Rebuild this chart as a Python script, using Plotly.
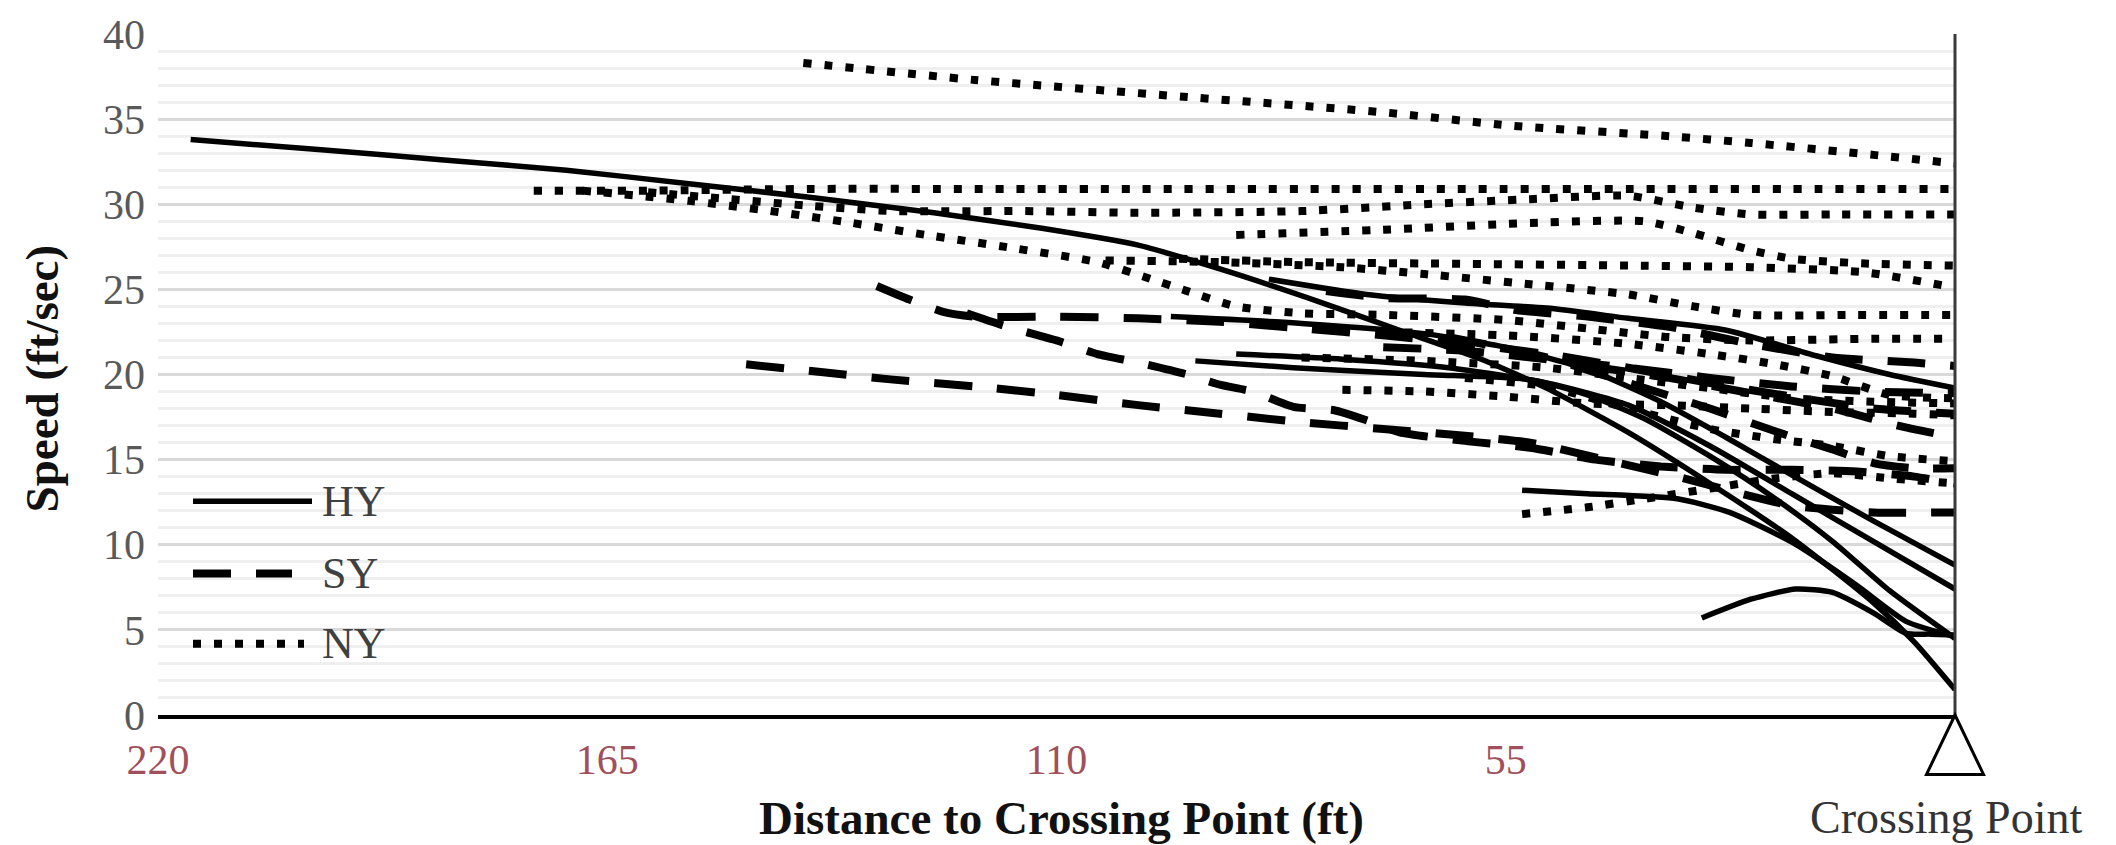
import plotly.graph_objects as go

# ---- axis ticks ----
dist_ticks = [220, 165, 110, 55]
speed_ticks = [0, 5, 10, 15, 20, 25, 30, 35, 40]

# ---- HY trajectories (distance ft, speed ft/s) ----
hy_dist = [
    [216, 200, 185, 170, 155, 140, 125, 112, 100, 90, 78, 68, 58, 50, 40, 30, 20, 10, 5, 0],
    [93, 81, 65, 52, 45, 38, 30, 22, 15, 8, 0],
    [96, 80, 65, 55, 45, 36, 28, 20, 10, 0],
    [88, 75, 62, 50, 40, 30, 20, 10, 0],
    [84, 72, 60, 50, 40, 28, 17, 8, 0],
    [31, 25, 19.5, 15, 10, 6, 3, 0],
    [53, 45, 34, 27.6, 19.4, 12, 6, 0],
]
hy_speed = [
    [33.8, 33.2, 32.6, 32.0, 31.2, 30.4, 29.5, 28.6, 27.6, 26.2, 24.3, 22.6, 20.9, 19.2, 16.6, 13.6, 10.4, 6.6, 4.3, 1.5],
    [20.8, 20.4, 20.0, 19.7, 18.8, 17.4, 15.2, 12.7, 10.2, 7.3, 4.5],
    [23.4, 23.0, 22.4, 21.6, 20.3, 18.4, 16.3, 14.1, 11.4, 8.8],
    [21.2, 20.9, 20.4, 19.5, 18.2, 15.8, 13.0, 10.2, 7.4],
    [25.6, 24.7, 24.2, 23.9, 23.3, 22.6, 21.1, 20.0, 19.2],
    [5.7, 6.8, 7.4, 7.2, 6.0, 4.8, 4.75, 4.7],
    [13.2, 13.0, 12.7, 11.9, 10.0, 7.6, 5.5, 4.6],
]

# ---- SY trajectories ----
sy_dist = [
    [148, 140, 130, 120, 110, 100, 90, 80, 70, 60, 52, 42, 34, 27, 20, 10, 0],
    [132, 128, 124, 120, 110, 100, 90, 80, 70, 60, 50, 40, 30, 20, 10, 0],
    [77, 70, 60, 54, 45, 35, 25, 15, 5, 0],
    [62, 50, 40, 30, 21, 15, 10, 5, 0],
    [45, 35, 25, 15, 7, 0],
    [121, 116, 110, 105, 100, 94, 90, 86, 81, 76, 72, 68, 60, 52, 44, 36, 28, 20, 12, 5, 0],
    [70, 60, 50, 40, 30, 20, 10, 0],
]
sy_speed = [
    [20.6, 20.2, 19.7, 19.3, 18.8, 18.2, 17.7, 17.2, 16.8, 16.4, 16.0, 14.9, 14.0, 13.1, 12.3, 11.9, 11.9],
    [25.2, 24.4, 23.7, 23.4, 23.4, 23.3, 23.1, 22.7, 22.3, 21.8, 21.2, 20.4, 19.5, 18.7, 18.0, 17.7],
    [24.9, 24.5, 24.4, 23.8, 23.4, 22.8, 21.8, 21.0, 20.7, 20.5],
    [22.2, 21.0, 19.5, 18.0, 16.5, 15.6, 14.8, 14.5, 14.5],
    [20.5, 19.8, 18.9, 18.0, 17.0, 16.3],
    [23.6, 22.8, 22.0, 21.2, 20.7, 20.0, 19.4, 19.0, 18.1, 17.9, 17.3, 16.6, 16.1, 15.7, 15.0, 14.6, 14.4, 14.4, 14.3, 14.0, 13.6],
    [21.6, 21.4, 20.9, 20.4, 19.8, 19.3, 19.0, 18.9],
]

# ---- NY trajectories ----
ny_dist = [
    [141, 120, 94, 70, 54, 35, 25, 10, 0],
    [174, 160, 140, 120, 100, 80, 60, 40, 20, 0],
    [160, 150, 140, 130, 114, 100, 80, 65, 52, 40, 32, 25, 15, 0],
    [168, 155, 145, 135, 126, 115, 105, 99, 94, 88, 80, 70, 55, 45, 35, 25, 10, 0],
    [88, 70, 52, 38, 32, 25, 20, 10, 0],
    [104, 90, 75, 65, 52, 40, 32, 25, 12, 0],
    [95, 80, 60, 40, 25, 11, 0],
    [75, 65, 55, 45, 35, 25, 15, 5, 0],
    [53, 45, 38, 30, 22, 15, 8, 0],
    [70, 55, 40, 30, 22, 15, 8, 0],
    [60, 50, 40, 30, 22, 15, 8, 0],
    [80, 65, 50, 40, 30, 20, 10, 0],
]
ny_speed = [
    [38.3, 37.3, 36.3, 35.4, 34.6, 34.0, 33.6, 32.9, 32.4],
    [30.8, 30.8, 30.9, 30.9, 30.9, 30.9, 30.9, 30.9, 30.9, 30.9],
    [30.7, 30.3, 29.9, 29.6, 29.6, 29.5, 29.6, 30.0, 30.3, 30.5, 29.8, 29.4, 29.4, 29.4],
    [30.8, 30.2, 29.6, 28.9, 28.2, 27.4, 26.6, 25.7, 24.9, 24.0, 23.6, 23.5, 23.2, 22.7, 22.2, 22.0, 22.1, 22.1],
    [28.2, 28.5, 28.9, 29.0, 28.3, 27.3, 26.8, 26.5, 26.4],
    [26.7, 26.6, 26.3, 25.9, 25.3, 24.7, 24.0, 23.5, 23.5, 23.5],
    [26.8, 26.6, 26.5, 26.4, 26.3, 26.0, 25.1],
    [19.1, 19.0, 18.7, 18.3, 18.2, 18.0, 17.8, 17.7, 17.6],
    [11.8, 12.2, 12.7, 13.3, 13.9, 14.2, 13.9, 13.6],
    [22.5, 22.3, 21.8, 21.2, 20.6, 19.9, 18.8, 18.6],
    [19.8, 19.3, 18.0, 16.8, 16.2, 15.8, 15.2, 14.9],
    [21.0, 20.8, 20.4, 19.8, 19.2, 18.6, 18.4, 18.3],
]

SERIF = "Liberation Serif"
INK = "#000000"

# line styles per yielding group
styles = {
    "HY": dict(color=INK, width=5.5, dash="solid"),
    "SY": dict(color=INK, width=8, dash="38px,25px"),
    "NY": dict(color=INK, width=8, dash="8px,13px"),
}

fig = go.Figure()

for group, dists, speeds in (("NY", ny_dist, ny_speed),
                             ("SY", sy_dist, sy_speed),
                             ("HY", hy_dist, hy_speed)):
    for d, s in zip(dists, speeds):
        fig.add_trace(go.Scatter(
            x=d, y=s, mode="lines", name=group, showlegend=False,
            line=dict(shape="spline", smoothing=0.6, **styles[group]),
            hoverinfo="skip",
        ))

# plot-area geometry in pixels
W, H = 2116, 845
ML, MR, MT, MB = 158, 161, 27, 130
PW, PH = W - ML - MR, H - MT - MB


def px_x(p):
    return (p - ML) / PW


def px_y(p):
    return (H - MB - p) / PH


shapes = []
# crossing-point line on the right edge of the plot
shapes.append(dict(type="line", xref="paper", yref="paper", x0=1, x1=1, y0=0, y1=1,
                   line=dict(color="#3a3a3a", width=3)))
# crossing-point triangle below the axis
tw, th = 28.5 / PW, 60 / PH
shapes.append(dict(type="path", xref="paper", yref="paper",
                   path=f"M 1 0 L {1 + tw} {-th} L {1 - tw} {-th} Z",
                   line=dict(color=INK, width=3), fillcolor="white"))

# legend keys
legend_rows = [("HY", 499, 312), ("SY", 572, 292), ("NY", 643, 304)]
annotations = []
for name, ypx, xend in legend_rows:
    st = styles[name]
    shapes.append(dict(type="line", xref="paper", yref="paper",
                       x0=px_x(193), x1=px_x(xend), y0=px_y(ypx), y1=px_y(ypx),
                       line=dict(color=INK, width=st["width"], dash=st["dash"])))
    annotations.append(dict(xref="paper", yref="paper", x=px_x(320), y=px_y(ypx),
                            text=name, showarrow=False, xanchor="left", yanchor="middle",
                            font=dict(family=SERIF, size=44, color="#404040")))

annotations += [
    dict(xref="paper", yref="paper", x=px_x(1061), y=px_y(819),
         text="<b>Distance to Crossing Point (ft)</b>", showarrow=False,
         xanchor="center", yanchor="middle",
         font=dict(family=SERIF, size=47, color="#111111")),
    dict(xref="paper", yref="paper", x=px_x(1946), y=px_y(819),
         text="Crossing Point", showarrow=False, xanchor="center", yanchor="middle",
         font=dict(family=SERIF, size=46, color="#333333")),
    dict(xref="paper", yref="paper", x=px_x(42), y=px_y(375),
         text="<b>Speed (ft/sec)</b>", showarrow=False, textangle=-90,
         xanchor="center", yanchor="middle",
         font=dict(family=SERIF, size=47, color="#111111")),
]

fig.update_layout(
    width=W, height=H,
    margin=dict(l=ML, r=MR, t=MT, b=MB, pad=0),
    paper_bgcolor="white", plot_bgcolor="white",
    showlegend=False,
    shapes=shapes, annotations=annotations,
    xaxis=dict(
        range=[220, 0], tickmode="array", tickvals=dist_ticks,
        ticktext=[str(v) for v in dist_ticks],
        tickfont=dict(family=SERIF, size=42, color="#a0505a"),
        showgrid=False, zeroline=False,
        showline=True, linecolor=INK, linewidth=4,
        ticks="", ticklabelstandoff=5,
    ),
    yaxis=dict(
        range=[0, 40], tickmode="array", tickvals=speed_ticks,
        tickfont=dict(family=SERIF, size=42, color="#595959"),
        showgrid=True, gridcolor="#d9d9d9", gridwidth=3,
        minor=dict(dtick=1, showgrid=True, gridcolor="#efefef", gridwidth=3),
        zeroline=False, showline=False, ticks="", ticklabelstandoff=12,
    ),
)

fig.write_html("out.html")
